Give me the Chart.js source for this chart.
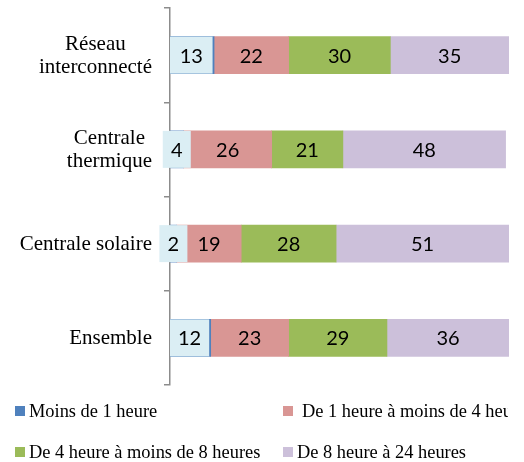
<!DOCTYPE html>
<html>
<head>
<meta charset="utf-8">
<script src="https://cdn.jsdelivr.net/npm/chart.js@4.4.0/dist/chart.umd.min.js"></script>
<style>
    body { margin: 0; background: #fff; }
    #wrap { position: relative; width: 524px; height: 462px; }
    #legend, #cats { position: absolute; left: 0; top: 0; width: 508px; height: 462px; overflow: hidden;
              font-family: "Liberation Serif", "Times New Roman", serif; color: #000; pointer-events: none; }
    #legend { font-size: 18.4px; }
    #cats { font-size: 21px; }
    .sq { position: absolute; width: 10px; height: 10px; }
    .txt { position: absolute; white-space: nowrap; line-height: 20px; }
    .cat { position: absolute; white-space: nowrap; text-align: center; line-height: 23px; }
</style>
</head>
<body>
<div id="wrap">
    <canvas id="chart" width="524" height="462"></canvas>
    <div id="cats"></div>
    <div id="legend"></div>
</div>
<script>
// Data
const categories = [['Réseau', 'interconnecté'], ['Centrale', 'thermique'], 'Centrale solaire', 'Ensemble'];
const seriesNames = ['Moins de 1 heure', 'De 1 heure à moins de 4 heures', 'De 4 heure à moins de 8 heures', 'De 8 heure à 24 heures'];
const moinsUneHeure = [13, 4, 2, 12];
const uneAQuatre = [22, 26, 19, 23];
const quatreAHuit = [30, 21, 28, 29];
const huitAVingtQuatre = [35, 48, 51, 36];

const colors = ['#4F81BD', '#D99694', '#9BBB59', '#CCC0DA'];
const labelBoxColor = '#DBEEF4';
const axisColor = '#8c8c8c';

// value labels (first series gets a light box like the original)
const valueLabels = {
    id: 'valueLabels',
    afterDatasetsDraw(chart) {
        const ctx = chart.ctx;
        ctx.save();
        ctx.font = '20px Lato';
        ctx.textAlign = 'center';
        ctx.textBaseline = 'middle';
        chart.data.datasets.forEach(function(ds, di) {
            const meta = chart.getDatasetMeta(di);
            meta.data.forEach(function(bar, i) {
                const p = bar.getProps(['x', 'y', 'base', 'height'], true);
                const left = Math.min(p.base, p.x), right = Math.max(p.base, p.x);
                let cx = (left + right) / 2;
                if (di === 0) {
                    let bl = left, br = right - 1.5;
                    if (br - bl < 28) {
                        bl = cx - 14;
                        br = cx + 14;
                    }
                    cx = (bl + br) / 2;
                    ctx.fillStyle = labelBoxColor;
                    ctx.fillRect(bl, p.y - p.height / 2, br - bl, p.height);
                }
                ctx.fillStyle = '#000';
                ctx.fillText(String(ds.data[i]), cx, p.y + 1);
            });
        });
        ctx.restore();
    }
};

const ctx = document.getElementById('chart').getContext('2d');
const chart = new Chart(ctx, {
    type: 'bar',
    data: {
        labels: categories,
        datasets: [
            { label: seriesNames[0], data: moinsUneHeure, backgroundColor: colors[0] },
            { label: seriesNames[1], data: uneAQuatre, backgroundColor: colors[1] },
            { label: seriesNames[2], data: quatreAHuit, backgroundColor: colors[2] },
            { label: seriesNames[3], data: huitAVingtQuatre, backgroundColor: colors[3] }
        ]
    },
    options: {
        indexAxis: 'y',
        responsive: false,
        animation: false,
        layout: { padding: { top: 8, bottom: 77, right: 15, left: 0 } },
        datasets: { bar: { barThickness: 37, borderWidth: 0 } },
        plugins: { legend: { display: false }, tooltip: { enabled: false } },
        scales: {
            x: { stacked: true, min: 0, max: 100, display: false },
            y: {
                stacked: true,
                ticks: { display: false },
                grid: { display: true, drawOnChartArea: false, drawTicks: true, tickLength: 6, color: axisColor, lineWidth: 1.5 },
                border: { display: true, color: axisColor, width: 1.5 },
                afterFit: function(scale) { scale.width = 170; }
            }
        }
    },
    plugins: [valueLabels]
});

// category labels as text next to the axis: block right aligned, lines centred
const cats = document.getElementById('cats');
const lineH = 23;
categories.forEach(function(cat, i) {
    const lines = Array.isArray(cat) ? cat : [cat];
    const y = chart.scales.y.getPixelForValue(i);
    const d = document.createElement('div');
    d.className = 'cat';
    d.style.right = (508 - 152) + 'px';
    d.style.top = (y - lines.length * lineH / 2) + 'px';
    d.innerHTML = lines.join('<br>');
    cats.appendChild(d);
});

// legend in two rows, clipped on the right like the original
const legendPos = [
    { x: 15, y: 411, tx: 29 },
    { x: 283, y: 411, tx: 302 },
    { x: 15, y: 452, tx: 29 },
    { x: 283, y: 452, tx: 297 }
];
const legend = document.getElementById('legend');
seriesNames.forEach(function(name, i) {
    const pos = legendPos[i];
    const sq = document.createElement('div');
    sq.className = 'sq';
    sq.style.left = pos.x + 'px';
    sq.style.top = (pos.y - 5) + 'px';
    sq.style.background = colors[i];
    legend.appendChild(sq);
    const t = document.createElement('div');
    t.className = 'txt';
    t.style.left = pos.tx + 'px';
    t.style.top = (pos.y - 10) + 'px';
    t.textContent = name;
    legend.appendChild(t);
});
</script>
</body>
</html>
